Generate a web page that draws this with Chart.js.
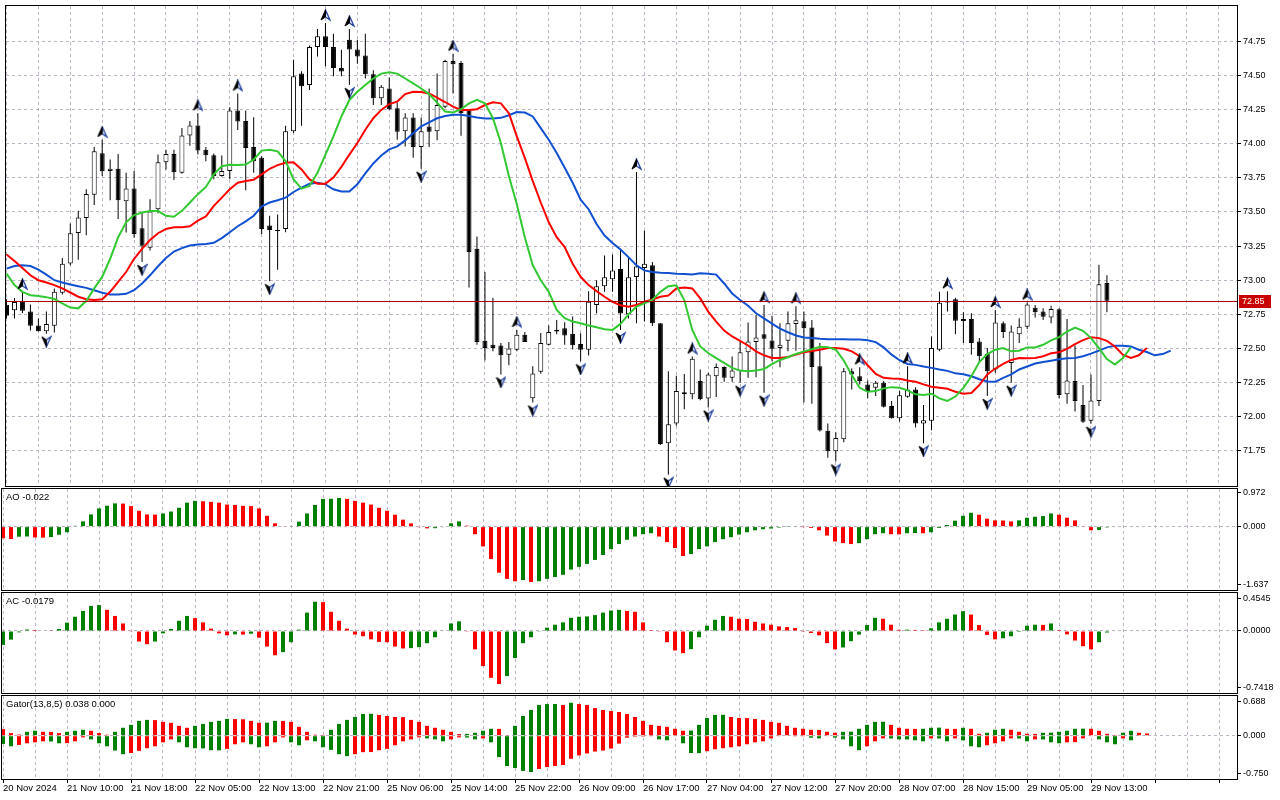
<!DOCTYPE html>
<html>
<head>
<meta charset="utf-8">
<title>H1 chart – Alligator, AO, AC, Gator</title>
<script src="https://cdn.jsdelivr.net/npm/chart.js@4.4.1/dist/chart.umd.min.js"></script>
<style>
  html, body { margin: 0; padding: 0; background: #fff; }
  #stage { position: relative; width: 1280px; height: 800px; overflow: hidden; }
  #stage canvas { position: absolute; left: 0; top: 0; }
</style>
</head>
<body>
<div id="stage">
  <canvas id="priceChart" width="1280" height="800"></canvas>
  <canvas id="aoChart" width="1280" height="800"></canvas>
  <canvas id="acChart" width="1280" height="800"></canvas>
  <canvas id="gatorChart" width="1280" height="800"></canvas>
</div>
<script>
// ---- data (one value per hourly bar) ----
const timeLabels = ['20 Nov 2024', '21 Nov 10:00', '21 Nov 18:00', '22 Nov 05:00', '22 Nov 13:00',
  '22 Nov 21:00', '25 Nov 06:00', '25 Nov 14:00', '25 Nov 22:00', '26 Nov 09:00', '26 Nov 17:00',
  '27 Nov 04:00', '27 Nov 12:00', '27 Nov 20:00', '28 Nov 07:00', '28 Nov 15:00', '29 Nov 05:00',
  '29 Nov 13:00'];

const opens = [72.82,72.78,72.845,72.77,72.668,72.627,72.666,72.908,73.123,73.346,
  73.455,73.625,73.93,73.80,73.816,73.579,73.671,73.38,73.237,73.52,
  73.864,73.925,73.787,74.06,74.133,73.956,73.915,73.763,73.80,74.242,
  74.165,73.976,73.896,73.40,73.363,73.375,74.09,74.513,74.429,74.707,
  74.787,74.707,74.554,74.76,74.69,74.646,74.508,74.332,74.404,74.259,
  74.09,74.191,73.976,74.126,74.09,74.271,74.605,74.591,74.247,73.23,
  72.557,72.528,72.521,72.455,72.49,72.60,72.136,72.329,72.528,72.637,
  72.649,72.608,72.532,72.491,72.818,72.956,73.007,73.082,72.75,73.024,
  73.089,73.109,72.685,71.806,71.951,72.18,72.164,72.261,72.133,72.297,
  72.365,72.285,72.334,72.472,72.547,72.605,72.558,72.503,72.556,72.68,
  72.70,72.653,72.37,71.898,71.748,71.835,72.334,72.297,72.237,72.212,
  72.249,72.079,71.99,72.147,72.20,71.951,71.97,72.491,72.847,72.861,
  72.701,72.716,72.552,72.46,72.346,72.685,72.394,72.605,72.66,72.799,
  72.77,72.726,72.787,72.164,72.261,72.087,71.97,72.116,72.98];
const highs = [72.86,72.87,72.915,72.823,72.72,72.77,72.94,73.162,73.416,73.508,
  73.666,73.976,74.029,73.884,73.925,73.787,73.80,73.50,73.593,73.92,
  73.956,73.956,74.114,74.165,74.223,73.976,73.927,73.913,74.266,74.368,
  74.242,74.194,73.908,73.472,73.482,74.131,74.615,74.53,74.719,74.84,
  74.884,74.804,74.688,74.84,74.76,74.804,74.538,74.429,74.484,74.30,
  74.223,74.223,74.191,74.404,74.513,74.615,74.659,74.605,74.252,73.32,
  73.06,72.872,72.54,72.547,72.637,72.62,72.37,72.613,72.668,72.709,
  72.692,72.734,72.612,72.92,73.0,73.181,73.189,73.225,73.164,73.792,
  73.363,73.133,72.685,72.334,72.30,72.313,72.442,72.346,72.322,72.39,
  72.37,72.442,72.551,72.69,72.745,72.818,72.74,72.685,72.77,72.81,
  72.77,72.709,72.54,71.95,71.887,72.358,72.353,72.363,72.266,72.261,
  72.261,72.116,72.188,72.37,72.217,72.086,72.588,72.915,72.92,72.871,
  72.765,72.758,72.576,72.503,72.782,72.697,72.668,72.721,72.837,72.818,
  72.794,72.813,72.794,72.716,72.522,72.232,72.31,73.114,73.036];
const lows = [72.72,72.72,72.76,72.632,72.625,72.608,72.617,72.896,73.11,73.15,
  73.33,73.55,73.763,73.586,73.448,73.35,73.31,73.133,73.218,73.49,
  73.81,73.734,73.78,73.985,73.92,73.872,73.739,73.758,73.739,74.10,
  73.659,73.787,73.339,72.993,73.077,73.351,74.078,74.131,74.392,74.639,
  74.567,74.494,74.494,74.429,74.586,74.477,74.283,74.283,74.247,74.029,
  73.98,73.896,73.816,73.976,74.024,74.259,74.368,74.058,72.947,72.528,
  72.412,72.479,72.31,72.378,72.479,72.547,72.104,72.315,72.521,72.605,
  72.528,72.492,72.406,72.448,72.758,72.915,72.915,72.636,72.72,72.684,
  72.697,72.665,71.794,71.575,71.934,72.055,72.128,72.121,72.067,72.145,
  72.256,72.256,72.249,72.285,72.29,72.176,72.406,72.363,72.479,72.484,
  72.104,72.096,71.893,71.70,71.672,71.813,72.20,72.237,72.135,72.152,
  72.067,71.987,71.966,72.14,71.922,71.806,71.902,72.479,72.77,72.605,
  72.54,72.455,72.394,72.152,72.322,72.576,72.249,72.54,72.643,72.726,
  72.709,72.685,72.135,72.096,72.038,71.955,71.948,72.079,72.765];
const closes = [72.74,72.84,72.777,72.666,72.627,72.68,72.915,73.121,73.344,73.46,
  73.632,73.944,73.797,73.816,73.586,73.671,73.339,73.252,73.504,73.864,
  73.925,73.79,74.06,74.133,73.95,73.915,73.763,73.80,74.242,74.162,
  73.969,73.872,73.375,73.368,73.361,74.09,74.494,74.421,74.707,74.787,
  74.707,74.554,74.528,74.69,74.639,74.508,74.332,74.416,74.252,74.087,
  74.191,73.976,74.09,74.087,74.283,74.605,74.581,74.223,73.206,72.547,
  72.504,72.504,72.45,72.499,72.60,72.547,72.317,72.54,72.62,72.625,
  72.596,72.523,72.491,72.842,72.956,73.022,73.072,72.757,73.022,73.10,
  73.121,72.685,71.801,71.946,72.188,72.164,72.425,72.128,72.31,72.365,
  72.285,72.338,72.472,72.551,72.58,72.571,72.498,72.527,72.685,72.707,
  72.648,72.365,71.90,71.748,71.845,72.334,72.31,72.261,72.188,72.249,
  72.074,71.99,72.158,72.20,71.95,71.975,72.503,72.835,72.837,72.704,
  72.716,72.54,72.443,72.334,72.69,72.62,72.624,72.66,72.823,72.765,
  72.733,72.789,72.159,72.266,72.116,71.963,72.12,72.971,72.85];

// Alligator lines as drawn (already shifted forward)
const jaw = [73.085,73.104,73.109,73.104,73.077,73.041,73.0,72.983,72.969,72.956,
  72.944,72.927,72.908,72.896,72.896,72.9,72.927,72.976,73.036,73.102,
  73.162,73.21,73.235,73.254,73.262,73.266,73.274,73.308,73.351,73.395,
  73.431,73.472,73.54,73.569,73.586,73.605,73.646,73.678,73.707,73.714,
  73.702,73.666,73.649,73.649,73.702,73.782,73.855,73.913,73.958,73.98,
  74.024,74.077,74.126,74.155,74.186,74.203,74.211,74.211,74.203,74.191,
  74.184,74.184,74.189,74.208,74.232,74.228,74.199,74.114,74.029,73.932,
  73.823,73.714,73.59,73.52,73.412,73.327,73.273,73.225,73.169,73.109,
  73.072,73.06,73.055,73.053,73.048,73.046,73.041,73.051,73.048,73.041,
  72.976,72.903,72.855,72.813,72.758,72.721,72.682,72.646,72.619,72.595,
  72.581,72.576,72.571,72.568,72.568,72.568,72.566,72.566,72.561,72.547,
  72.508,72.455,72.414,72.387,72.38,72.368,72.358,72.346,72.336,72.318,
  72.312,72.297,72.275,72.258,72.256,72.285,72.31,72.346,72.368,72.39,
  72.401,72.411,72.421,72.428,72.431,72.443,72.462,72.484,72.508,72.52,
  72.52,72.515,72.491,72.474,72.45,72.459,72.484];
const teeth = [73.189,73.14,73.09,73.036,73.0,72.983,72.964,72.94,72.91,72.879,
  72.86,72.855,72.86,72.915,72.988,73.06,73.157,73.23,73.295,73.344,
  73.375,73.387,73.387,73.395,73.436,73.467,73.545,73.605,73.666,73.714,
  73.726,73.736,73.775,73.816,73.843,73.86,73.864,73.811,73.738,73.707,
  73.707,73.751,73.83,73.92,74.005,74.102,74.186,74.247,74.29,74.308,
  74.363,74.38,74.378,74.368,74.337,74.305,74.271,74.247,74.247,74.252,
  74.283,74.303,74.295,74.223,74.053,73.896,73.726,73.569,73.424,73.315,
  73.242,73.121,73.025,72.964,72.92,72.879,72.842,72.816,72.806,72.818,
  72.842,72.859,72.879,72.888,72.94,72.947,72.94,72.867,72.77,72.697,
  72.631,72.588,72.556,72.522,72.479,72.45,72.431,72.431,72.438,72.455,
  72.472,72.481,72.491,72.503,72.503,72.498,72.479,72.443,72.377,72.314,
  72.285,72.28,72.278,72.266,72.256,72.237,72.22,72.212,72.205,72.183,
  72.169,72.174,72.232,72.31,72.353,72.387,72.416,72.431,72.429,72.431,
  72.443,72.465,72.472,72.498,72.532,72.561,72.583,72.576,72.556,72.515,
  72.455,72.431,72.45,72.503];
const lips = [73.048,72.964,72.915,72.89,72.884,72.876,72.862,72.83,72.8,72.794,
  72.847,72.94,73.024,73.157,73.315,73.424,73.477,73.496,73.506,73.506,
  73.472,73.465,73.508,73.569,73.63,73.683,73.775,73.835,73.845,73.843,
  73.847,73.884,73.949,73.956,73.944,73.872,73.738,73.671,73.69,73.787,
  73.92,74.053,74.199,74.32,74.38,74.429,74.477,74.513,74.523,74.513,
  74.477,74.441,74.404,74.363,74.30,74.235,74.228,74.252,74.295,74.32,
  74.295,74.186,74.005,73.763,73.557,73.315,73.109,73.0,72.915,72.782,
  72.722,72.697,72.685,72.668,72.656,72.641,72.636,72.68,72.75,72.806,
  72.83,72.855,72.915,72.956,72.963,72.855,72.636,72.515,72.467,72.43,
  72.394,72.358,72.338,72.334,72.338,72.35,72.385,72.416,72.436,72.46,
  72.479,72.494,72.513,72.51,72.491,72.411,72.305,72.212,72.183,72.188,
  72.208,72.217,72.212,72.193,72.164,72.159,72.169,72.135,72.116,72.148,
  72.212,72.297,72.401,72.459,72.491,72.503,72.479,72.484,72.508,72.508,
  72.527,72.559,72.583,72.624,72.653,72.629,72.576,72.503,72.423,72.382,
  72.43,72.508];

// bars carrying a fractal mark
const fractalUp = [2,12,24,29,40,43,56,64,79,86,95,99,107,113,118,124,128];
const fractalDown = [5,17,33,43,52,62,66,72,77,83,88,92,95,104,115,123,126,136];

const aoValues = [-0.30,-0.32,-0.26,-0.255,-0.28,-0.285,-0.27,-0.21,-0.145,0.02,
  0.136,0.315,0.47,0.54,0.60,0.595,0.53,0.41,0.315,0.31,
  0.34,0.39,0.486,0.62,0.665,0.656,0.64,0.62,0.57,0.56,
  0.537,0.53,0.47,0.28,0.085,0.01,0.017,0.128,0.34,0.56,
  0.716,0.72,0.74,0.716,0.665,0.62,0.57,0.486,0.41,0.307,
  0.18,0.085,-0.017,-0.045,-0.04,-0.01,0.085,0.136,0.026,-0.196,
  -0.51,-0.835,-1.19,-1.35,-1.41,-1.38,-1.43,-1.41,-1.35,-1.30,
  -1.245,-1.11,-1.04,-0.963,-0.86,-0.733,-0.58,-0.45,-0.34,-0.256,
  -0.196,-0.17,-0.256,-0.40,-0.554,-0.76,-0.707,-0.58,-0.51,-0.40,
  -0.324,-0.273,-0.205,-0.145,-0.094,-0.068,-0.05,-0.026,0.005,0.01,
  -0.005,-0.034,-0.094,-0.23,-0.384,-0.426,-0.45,-0.426,-0.324,-0.196,
  -0.17,-0.196,-0.2,-0.17,-0.165,-0.17,-0.145,-0.034,0.043,0.153,
  0.28,0.358,0.307,0.205,0.162,0.158,0.136,0.162,0.23,0.256,
  0.273,0.34,0.307,0.23,0.162,0.017,-0.094,-0.085,-0.022];
const acValues = [-0.166,-0.103,-0.016,0.018,0.012,0.006,0.003,0.024,0.10,0.17,
  0.24,0.30,0.31,0.253,0.18,0.09,-0.004,-0.126,-0.158,-0.126,
  -0.028,0.024,0.122,0.18,0.154,0.103,0.028,-0.028,-0.051,-0.04,
  -0.043,-0.032,-0.08,-0.186,-0.29,-0.253,-0.134,0.016,0.22,0.35,
  0.345,0.23,0.122,0.028,-0.043,-0.063,-0.10,-0.13,-0.134,-0.186,
  -0.209,-0.205,-0.193,-0.146,-0.075,0.005,0.09,0.115,-0.003,-0.22,
  -0.42,-0.56,-0.635,-0.54,-0.324,-0.146,-0.075,-0.003,0.04,0.075,
  0.103,0.158,0.17,0.174,0.19,0.22,0.245,0.253,0.24,0.23,
  0.103,0.012,-0.003,-0.134,-0.233,-0.265,-0.217,-0.075,0.063,0.134,
  0.18,0.17,0.146,0.144,0.11,0.09,0.075,0.055,0.047,0.035,
  -0.002,-0.024,-0.051,-0.145,-0.22,-0.197,-0.122,-0.043,0.071,0.158,
  0.146,0.075,0.014,0.016,0.013,0.002,0.032,0.103,0.146,0.197,
  0.237,0.197,0.071,-0.047,-0.10,-0.087,-0.063,-0.012,0.063,0.075,
  0.073,0.09,0.012,-0.04,-0.114,-0.182,-0.22,-0.134,-0.018];
const gatorUpper = [0.114,0.046,0.020,0.068,0.086,0.068,0.066,0.046,0.068,0.086,
  0.103,0.086,0.046,0.017,0.068,0.137,0.188,0.257,0.274,0.270,
  0.240,0.223,0.171,0.137,0.171,0.205,0.240,0.257,0.291,0.288,
  0.285,0.257,0.223,0.226,0.257,0.254,0.240,0.154,0.068,0.017,
  0.003,0.103,0.205,0.274,0.325,0.377,0.380,0.360,0.342,0.325,
  0.322,0.274,0.240,0.171,0.137,0.103,0.068,0.029,0.032,0.051,
  0.086,0.120,0.118,0.005,0.171,0.342,0.445,0.531,0.548,0.550,
  0.531,0.571,0.548,0.531,0.479,0.445,0.428,0.411,0.377,0.325,
  0.257,0.188,0.171,0.154,0.120,0.086,0.090,0.188,0.308,0.360,
  0.362,0.325,0.308,0.305,0.291,0.274,0.240,0.223,0.171,0.137,
  0.120,0.103,0.100,0.068,0.051,0.068,0.070,0.120,0.188,0.240,
  0.242,0.188,0.137,0.120,0.118,0.120,0.137,0.140,0.120,0.118,
  0.137,0.120,0.034,0.051,0.103,0.120,0.103,0.068,0.034,0.032,
  0.051,0.053,0.068,0.086,0.120,0.122,0.120,0.086,0.034,0.003,
  0.051,0.086,0.051,0.038];
const gatorLower = [-0.143,-0.183,-0.160,-0.131,-0.114,-0.097,-0.100,-0.131,-0.128,-0.097,
  -0.029,-0.063,-0.131,-0.183,-0.257,-0.320,-0.300,-0.263,-0.217,-0.183,
  -0.114,-0.063,-0.114,-0.200,-0.217,-0.220,-0.251,-0.254,-0.228,-0.148,
  -0.114,-0.148,-0.200,-0.183,-0.114,-0.030,-0.114,-0.166,-0.080,-0.097,
  -0.200,-0.245,-0.320,-0.354,-0.320,-0.285,-0.283,-0.251,-0.228,-0.166,
  -0.097,-0.063,-0.029,-0.046,-0.063,-0.097,-0.063,-0.029,-0.032,-0.063,
  -0.046,-0.114,-0.371,-0.525,-0.560,-0.610,-0.628,-0.576,-0.542,-0.525,
  -0.508,-0.400,-0.342,-0.308,-0.274,-0.257,-0.223,-0.137,-0.034,-0.017,
  -0.015,-0.006,-0.063,-0.080,-0.010,-0.131,-0.300,-0.302,-0.268,-0.234,
  -0.217,-0.200,-0.183,-0.148,-0.114,-0.097,-0.046,-0.011,-0.008,-0.005,
  -0.003,-0.034,-0.046,-0.010,-0.034,-0.063,-0.183,-0.251,-0.183,-0.097,
  -0.046,-0.048,-0.063,-0.065,-0.080,-0.097,-0.046,-0.048,-0.097,-0.046,
  -0.080,-0.183,-0.200,-0.166,-0.131,-0.097,-0.046,-0.048,-0.097,-0.063,
  -0.065,-0.114,-0.131,-0.114,-0.112,-0.046,-0.010,-0.063,-0.114,-0.148,
  -0.046,-0.080];

const priceTicks = [71.75, 72.00, 72.25, 72.50, 72.75, 73.00, 73.25, 73.50, 73.75, 74.00, 74.25, 74.50, 74.75];
const aoTickLabels = ['0.972', '0.000', '-1.637'];
const acTickLabels = ['0.4545', '0.0000', '-0.7418'];
const gatorTickLabels = ['0.688', '0.000', '-0.750'];

// ---- look ----
const FONT = "'Liberation Sans', Arial, sans-serif";
const GRID = '#c0b4c4';
const GREEN = '#008000', RED = '#ff0000';
const JAW = '#1050d0', TEETH = '#ff0000', LIPS = '#32c832';
const SPAN = 154.375;           // bar slots across the plot
const NONE = 'rgba(0,0,0,0)';

Chart.defaults.font.family = FONT;
Chart.defaults.color = '#000';

const points = arr => arr.map((v, i) => ({ x: i, y: v }));
const upColors = (arr, first, grow) => arr.map((v, i) => {
  const up = i === 0 ? first : (grow ? Math.abs(v) > Math.abs(arr[i - 1]) : v > arr[i - 1]);
  return up ? GREEN : RED;
});

function timeAxis(min, withLabels) {
  return {
    type: 'linear', min: min, max: min + SPAN, offset: false,
    afterBuildTicks: s => { s.ticks = []; for (let v = 0; v <= min + SPAN; v += 4) s.ticks.push({ value: v }); },
    afterFit: s => { s.height = withLabels ? 21 : 0; s.paddingLeft = 0; s.paddingRight = 0; },
    grid: { offset: false, color: GRID, drawTicks: withLabels, tickLength: 4,
      tickColor: c => (c.tick && c.tick.value % 8 === 0) ? '#000' : NONE },
    border: { display: false, dash: [3, 3] },
    ticks: { display: withLabels, autoSkip: false, maxRotation: 0, minRotation: 0, align: 'start',
      padding: 0, font: { size: 9.5 },
      callback: v => v % 8 === 0 ? (timeLabels[v / 8] || '') : '' }
  };
}

function valueAxis(min, max, values, labels, zeroGridOnly) {
  return {
    position: 'right', min: min, max: max,
    afterBuildTicks: s => { s.ticks = values.map(v => ({ value: v })); },
    afterFit: s => { s.width = 43; s.paddingTop = 0; s.paddingBottom = 0; },
    grid: { color: zeroGridOnly ? (c => (c.tick && c.tick.value === 0) ? GRID : NONE) : GRID,
      drawTicks: true, tickLength: 4, tickColor: '#000' },
    border: { color: '#000', dash: [3, 3] },
    ticks: { padding: 2, font: { size: 9 }, callback: (v, i) => labels[i] }
  };
}

const frame = {
  id: 'frame',
  afterDraw(chart) {
    const { ctx, chartArea: a } = chart;
    ctx.save();
    ctx.strokeStyle = '#000';
    ctx.lineWidth = 1;
    ctx.strokeRect(Math.round(a.left) - 0.5, Math.round(a.top) - 0.5,
      Math.round(a.right - a.left) + 1, Math.round(a.bottom - a.top) + 1);
    ctx.restore();
  }
};

const caption = {
  id: 'caption',
  afterDraw(chart, args, opts) {
    if (!opts.text) return;
    const { ctx, chartArea: a } = chart;
    ctx.save();
    ctx.font = '9.5px ' + FONT;
    ctx.fillStyle = '#000';
    ctx.textBaseline = 'middle';
    ctx.fillText(opts.text, a.left + 4, a.top + 8);
    ctx.restore();
  }
};

// bid line and its tag on the price axis
const priceLine = {
  id: 'priceLine',
  afterDatasetsDraw(chart) {
    const { ctx, chartArea: a, scales } = chart;
    const py = Math.round(scales.y.getPixelForValue(closes[closes.length - 1])) + 0.5;
    ctx.save();
    ctx.strokeStyle = '#a80000';
    ctx.lineWidth = 1;
    ctx.beginPath();
    ctx.moveTo(a.left, py);
    ctx.lineTo(a.right, py);
    ctx.stroke();
    ctx.restore();
  },
  afterDraw(chart) {
    const { ctx, chartArea: a, scales } = chart;
    const last = closes[closes.length - 1];
    const py = Math.round(scales.y.getPixelForValue(last));
    ctx.save();
    ctx.fillStyle = '#c80000';
    ctx.fillRect(a.right + 2, py - 6, 32, 13);
    ctx.fillStyle = '#fff';
    ctx.font = '9px ' + FONT;
    ctx.textBaseline = 'middle';
    ctx.fillText(last.toFixed(2), a.right + 5, py + 0.5);
    ctx.restore();
  }
};

// fractal arrow glyphs, drawn a few pixels off the bar's extreme
function arrowMark(up) {
  const c = document.createElement('canvas');
  c.width = 11; c.height = 28;
  const g = c.getContext('2d');
  if (!up) { g.translate(0, 28); g.scale(1, -1); }
  g.beginPath(); g.moveTo(5.5, 1); g.lineTo(10, 11); g.lineTo(5.5, 8); g.closePath();
  g.fillStyle = '#fff'; g.fill();
  g.strokeStyle = '#1c3c9c'; g.lineWidth = 1.3; g.stroke();
  g.beginPath(); g.moveTo(5.5, 1); g.lineTo(5.5, 8); g.lineTo(1, 11); g.closePath();
  g.fillStyle = '#000'; g.fill();
  g.strokeStyle = '#000'; g.lineWidth = 1; g.stroke();
  return c;
}

const common = {
  responsive: false, animation: false, devicePixelRatio: 1, events: []
};
const quiet = { legend: { display: false }, tooltip: { enabled: false } };

// ---- price panel ----
const PRICE_X_MIN = -0.0625;   // bar centres on half pixels so 5px bodies stay crisp
const idx = closes.map((_, i) => i);

new Chart(document.getElementById('priceChart'), {
  type: 'bar',
  data: {
    datasets: [
      { type: 'line', data: fractalUp.map(i => ({ x: i, y: highs[i] })), showLine: false,
        pointStyle: arrowMark(true), pointRadius: 5, order: 0 },
      { type: 'line', data: fractalDown.map(i => ({ x: i, y: lows[i] })), showLine: false,
        pointStyle: arrowMark(false), pointRadius: 5, order: 0 },
      { type: 'line', data: points(lips), borderColor: LIPS, borderWidth: 2, pointRadius: 0, tension: 0, order: 1 },
      { type: 'line', data: points(teeth), borderColor: TEETH, borderWidth: 2, pointRadius: 0, tension: 0, order: 1 },
      { type: 'line', data: points(jaw), borderColor: JAW, borderWidth: 2, pointRadius: 0, tension: 0, order: 1 },
      { data: idx.map(i => ({ x: i, y: [opens[i], closes[i]] })),
        backgroundColor: idx.map(i => closes[i] >= opens[i] ? '#ffffff' : '#000000'),
        borderColor: '#000', borderWidth: 1, borderSkipped: false, barThickness: 5,
        minBarLength: 1, grouped: false, inflateAmount: 0, order: 2 },
      { data: idx.map(i => ({ x: i, y: [lows[i], highs[i]] })),
        backgroundColor: '#000', barThickness: 1, grouped: false, inflateAmount: 0, order: 3 }
    ]
  },
  options: {
    ...common,
    layout: { padding: { left: 2, right: 0, top: 2, bottom: 314 } },
    scales: {
      x: timeAxis(PRICE_X_MIN, false),
      y: valueAxis(71.493, 75.008, priceTicks, priceTicks.map(p => p.toFixed(2)), false)
    },
    plugins: quiet
  },
  plugins: [frame, priceLine]
});

// ---- oscillator panels ----
const OSC_X_MIN = -0.125;

function oscillator(id, pad, withTime, yAxis, datasets, text) {
  return new Chart(document.getElementById(id), {
    type: 'bar',
    data: { datasets: datasets },
    options: {
      ...common,
      layout: { padding: pad },
      scales: { x: timeAxis(OSC_X_MIN, withTime), y: yAxis },
      plugins: { ...quiet, caption: { text: text } }
    },
    plugins: [frame, caption]
  });
}

const histogram = (values, colors) => ({
  data: points(values), backgroundColor: colors, barThickness: 4,
  grouped: false, inflateAmount: 0
});

oscillator('aoChart', { left: 2, right: 0, top: 489, bottom: 210 }, false,
  valueAxis(-1.637, 0.972, [0.972 - 0.10, 0, -1.637 + 0.15], aoTickLabels, true),
  [histogram(aoValues, upColors(aoValues, false, false))],
  'AO -0.022');

oscillator('acChart', { left: 2, right: 0, top: 593, bottom: 107 }, false,
  valueAxis(-0.7418, 0.4545, [0.4545 - 0.067, 0, -0.7418 + 0.067], acTickLabels, true),
  [histogram(acValues, upColors(acValues, true, false))],
  'AC -0.0179');

oscillator('gatorChart', { left: 2, right: 0, top: 696, bottom: 0 }, true,
  valueAxis(-0.750, 0.688, [0.688 - 0.092, 0, -0.750 + 0.095], gatorTickLabels, true),
  [histogram(gatorUpper, upColors(gatorUpper, false, true)),
   histogram(gatorLower, upColors(gatorLower, true, true))],
  'Gator(13,8,5) 0.038 0.000');
</script>
</body>
</html>
